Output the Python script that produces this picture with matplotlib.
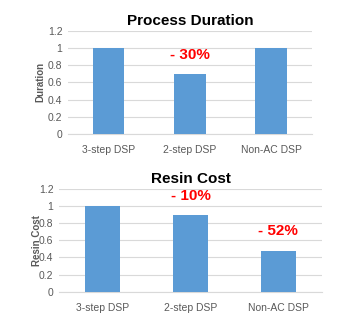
import matplotlib.pyplot as plt

plt.rcParams['font.family'] = ['Liberation Sans', 'DejaVu Sans']

categories = ['3-step DSP', '2-step DSP', 'Non-AC DSP']
duration = [1.0, 0.7, 1.0]
resin_cost = [1.0, 0.9, 0.48]
duration_notes = {1: '- 30%'}
resin_notes = {1: '- 10%', 2: '- 52%'}

fig = plt.figure(figsize=(3.45, 3.25), dpi=100)
ax1 = fig.add_axes([0.197, 0.588, 0.707, 0.317])
ax2 = fig.add_axes([0.171, 0.1025, 0.762, 0.316])


def draw(ax, values, title, ylabel, notes, note_y, width):
    x = range(len(categories))
    ax.bar(x, values, width=width, color='#5b9bd5', zorder=3)
    ax.set_ylim(0, 1.2)
    ax.set_xlim(-0.5, 2.5)
    ax.set_yticks([0, 0.2, 0.4, 0.6, 0.8, 1, 1.2])
    ax.set_yticklabels(['0', '0.2', '0.4', '0.6', '0.8', '1', '1.2'])
    ax.set_xticks(list(x))
    ax.set_xticklabels(categories)
    ax.grid(axis='y', color='#d9d9d9', linewidth=0.8, zorder=0)
    for s in ['top', 'right', 'left']:
        ax.spines[s].set_visible(False)
    ax.spines['bottom'].set_color('#d9d9d9')
    ax.tick_params(length=0, labelsize=7.5, colors='#595959', pad=4)
    ax.tick_params(axis='x', pad=8)
    ax.set_title(title, fontsize=11, fontweight='bold', pad=4)
    ax.set_ylabel(ylabel, fontsize=7, fontweight='bold', color='#595959', labelpad=2)
    for i, t in notes.items():
        ax.text(i, note_y[i], t, color='red', fontsize=11, fontweight='bold',
                ha='center', va='center')


draw(ax1, duration, 'Process Duration', 'Duration', duration_notes, {1: 0.92}, 0.39)
draw(ax2, resin_cost, 'Resin Cost', 'Resin Cost', resin_notes, {1: 1.12, 2: 0.71}, 0.4)
ax2.yaxis.set_label_coords(-0.065, 0.5)

fig.savefig('out.png', dpi=100)
